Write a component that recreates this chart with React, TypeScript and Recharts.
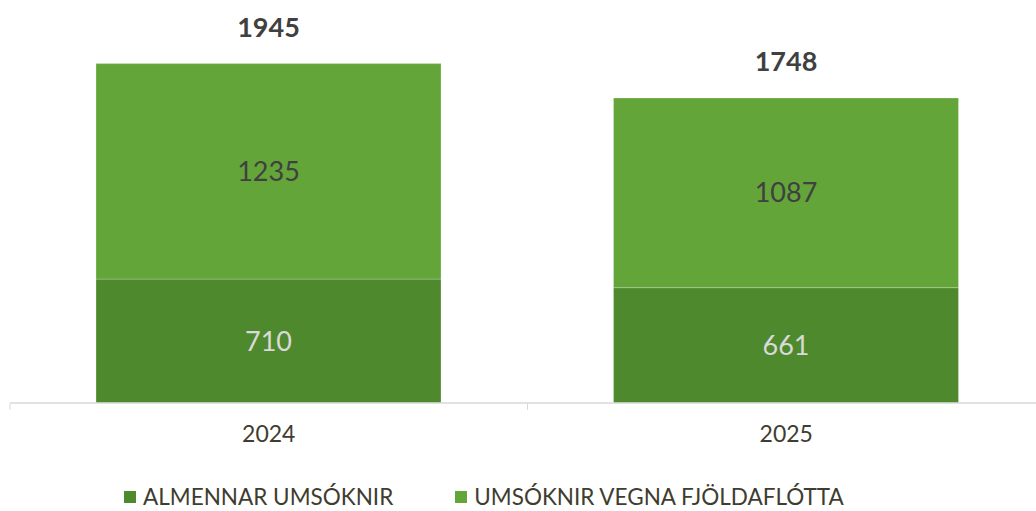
import React from "react";
import { BarChart, Bar, XAxis, YAxis, Legend, LabelList } from "recharts";

const years = ["2024", "2025"];
const almennar = [710, 661];
const fjoldaflotta = [1235, 1087];

const seriesNames = ["ALMENNAR UMSÓKNIR", "UMSÓKNIR VEGNA FJÖLDAFLÓTTA"];
const DARK = "#4f892d";
const LIGHT = "#64a539";
const FONT = "Lato, 'Noto Sans', sans-serif";

const data = years.map((year, i) => ({
  year,
  almennar: almennar[i],
  fjoldaflotta: fjoldaflotta[i],
  total: almennar[i] + fjoldaflotta[i],
}));

function YearTick(props: any) {
  const { x, y, payload, index, visibleTicksCount } = props;
  const half = payload?.offset ?? 258;
  const isLast = index === visibleTicksCount - 1;
  return (
    <g>
      <line x1={x - half} y1={y} x2={x - half} y2={y + 7} stroke="#d9d9d9" strokeWidth={1} />
      {isLast && <line x1={x + half} y1={y} x2={x + half} y2={y + 7} stroke="#d9d9d9" strokeWidth={1} />}
      <text
        x={x}
        y={y + 33}
        textAnchor="middle"
        dominantBaseline="middle"
        fill="#3f3d30"
        fontSize={23}
        fontFamily={FONT}
      >
        {payload.value}
      </text>
    </g>
  );
}

function LegendContent() {
  const colors = [DARK, LIGHT];
  return (
    <div
      style={{
        display: "flex",
        gap: 62,
        paddingLeft: 124,
        paddingTop: 9,
        fontFamily: FONT,
        fontSize: 22.5,
        lineHeight: "26px",
        color: "#3f3d30",
      }}
    >
      {seriesNames.map((name, i) => (
        <div key={name} style={{ display: "flex", alignItems: "center", gap: 7 }}>
          <span style={{ display: "inline-block", width: 12, height: 12, background: colors[i] }} />
          <span>{name}</span>
        </div>
      ))}
    </div>
  );
}

export default function App() {
  return (
    <div style={{ position: "absolute", top: 0, left: 0, width: 1036, height: 511, overflow: "hidden", background: "#fff" }}>
      <BarChart
        width={1046}
        height={511}
        data={data}
        margin={{ top: 54, right: 1, left: 10, bottom: 0 }}
      >
        <XAxis
          dataKey="year"
          axisLine={{ stroke: "#d9d9d9", strokeWidth: 1.5 }}
          tickLine={false}
          tickSize={0}
          tickMargin={0}
          height={72}
          tick={<YearTick />}
          interval={0}
        />
        <YAxis hide domain={[0, 2000]} />
        <Legend
          verticalAlign="bottom"
          height={36}
          content={<LegendContent />}
          wrapperStyle={{ left: 0, width: 1036 }}
        />
        <Bar
          dataKey="almennar"
          stackId="a"
          fill={DARK}
          barSize={345}
          stroke="rgba(255,255,255,0.25)"
          strokeWidth={1}
          isAnimationActive={false}
        >
          <LabelList
            dataKey="almennar"
            position="center"
            fill="#d9d9d9"
            fontSize={27}
            fontFamily={FONT}
          />
        </Bar>
        <Bar
          dataKey="fjoldaflotta"
          stackId="a"
          fill={LIGHT}
          barSize={345}
          stroke="rgba(255,255,255,0.25)"
          strokeWidth={1}
          isAnimationActive={false}
        >
          <LabelList
            dataKey="fjoldaflotta"
            position="center"
            fill="#404040"
            fontSize={27}
            fontFamily={FONT}
          />
          <LabelList
            dataKey="total"
            position="top"
            offset={27}
            fill="#404040"
            fontSize={27}
            fontWeight="bold"
            fontFamily={FONT}
          />
        </Bar>
      </BarChart>
    </div>
  );
}
